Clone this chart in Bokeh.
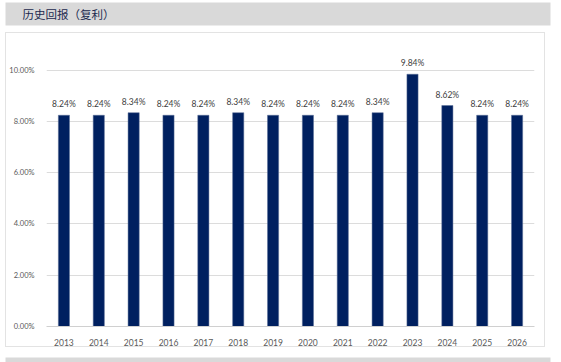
from bokeh.plotting import figure
from bokeh.layouts import column, row
from bokeh.models import ColumnDataSource, FixedTicker, CustomJSTickFormatter, Range1d, Spacer
from bokeh.core.properties import value
from bokeh.embed import file_html
from bokeh.resources import INLINE

years = ["2013", "2014", "2015", "2016", "2017", "2018", "2019",
         "2020", "2021", "2022", "2023", "2024", "2025", "2026"]
returns = [8.24, 8.24, 8.34, 8.24, 8.24, 8.34, 8.24,
           8.24, 8.24, 8.34, 9.84, 8.62, 8.24, 8.24]
y_ticks = [0, 2, 4, 6, 8, 10]
title_text = "历史回报（复利）"

W = 561
BAR = "#002060"
STRIP = "#d9d9d9"
LABEL_FONT = "Lato"


def strip_figure(height):
    # plain pixel-space figure used for the grey header / footer bands
    f = figure(width=W, height=height, x_range=Range1d(0, W), y_range=Range1d(height, 0),
               x_axis_type=None, y_axis_type=None, output_backend="svg",
               toolbar_location=None, min_border=0, outline_line_color=None,
               background_fill_color="white", border_fill_color="white")
    return f


# header band with the chart title
header = strip_figure(32)
header.quad(left=[5], right=[550], top=[2], bottom=[25], fill_color=STRIP, line_color=None)
header.text(x=[22], y=[13.5], text=[title_text], text_font=value("Noto Sans CJK SC"),
            text_font_size="11.5px", text_color="#1c2a4f",
            text_baseline="middle", text_align="left")

# main bar chart panel
src = ColumnDataSource(dict(
    year=years,
    ret=returns,
    txt=[f"{v:.2f}%" for v in returns],
))

p = figure(
    width=540, height=315,
    x_range=years, y_range=Range1d(0, 11),
    output_backend="svg", toolbar_location=None,
    min_border_left=38, min_border_right=12,
    min_border_top=11, min_border_bottom=22,
    background_fill_color="white", border_fill_color="white",
    outline_line_color=None,
    styles={"border": "1px solid #e3e3e3"},
)

p.vbar(x="year", top="ret", width=0.32, source=src,
       fill_color=BAR, line_color="#5a6e96", line_width=0.5)

p.text(x="year", y="ret", text="txt", source=src,
       text_font=value(LABEL_FONT), text_font_size="8.5px",
       text_color="#404040", text_align="center", text_baseline="bottom",
       y_offset=-6)

p.xgrid.grid_line_color = None
p.ygrid.grid_line_color = "#dcdcdc"
p.ygrid.grid_line_width = 1
p.ygrid.ticker = FixedTicker(ticks=y_ticks)

p.yaxis.ticker = FixedTicker(ticks=y_ticks)
p.yaxis.formatter = CustomJSTickFormatter(code="return tick.toFixed(2) + '%';")
p.yaxis.axis_line_color = None
p.yaxis.major_tick_line_color = None
p.yaxis.minor_tick_line_color = None
p.yaxis.major_label_text_font = LABEL_FONT
p.yaxis.major_label_text_font_size = "7.5px"
p.yaxis.major_label_text_color = "#595959"
p.yaxis.major_label_standoff = 6

p.xaxis.axis_line_color = "#d0d0d0"
p.xaxis.major_tick_line_color = None
p.xaxis.minor_tick_line_color = None
p.xaxis.major_label_text_font = LABEL_FONT
p.xaxis.major_label_text_font_size = "8.5px"
p.xaxis.major_label_text_color = "#595959"
p.xaxis.major_label_standoff = 6

# footer band
footer = strip_figure(13)
footer.quad(left=[5], right=[550], top=[8], bottom=[13], fill_color=STRIP, line_color=None)

layout = column(header, row(Spacer(width=5, height=317), p), footer, spacing=0)

open("out.html", "w").write(file_html(layout, INLINE))
